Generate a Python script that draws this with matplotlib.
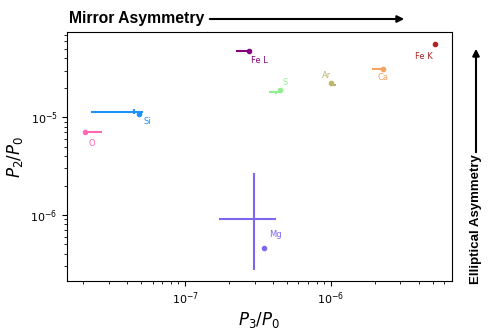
import matplotlib
matplotlib.use("Agg")
import matplotlib.pyplot as plt

# =========================
# Data
# =========================
elements = ["O", "Si", "S", "Ar", "Ca", "Fe L", "Fe K", "Mg"]
colors = ["hotpink", "dodgerblue", "lightgreen", "darkkhaki",
          "sandybrown", "purple", "firebrick", "mediumslateblue"]

# point estimates (dots)
p3_pt = [2.06e-8, 4.81e-8, 4.50e-7, 1.005e-6, 2.28e-6, 2.74e-7, 5.22e-6, 3.47e-7]
p2_pt = [7.12e-6, 1.09e-5, 1.89e-5, 2.22e-5, 3.14e-5, 4.81e-5, 5.62e-5, 4.56e-7]

# error bars: centre + lower/upper bounds
p3_c = [2.34e-8, 4.47e-8, 4.19e-7, 1.04e-6, 2.08e-6, 2.46e-7, 5.22e-6, 2.99e-7]
p3_lo = [2.06e-8, 2.26e-8, 3.77e-7, 9.89e-7, 1.91e-6, 2.23e-7, 5.22e-6, 1.72e-7]
p3_hi = [2.68e-8, 5.17e-8, 4.56e-7, 1.09e-6, 2.28e-6, 2.74e-7, 5.22e-6, 4.23e-7]
p2_c = [7.12e-6, 1.14e-5, 1.80e-5, 2.14e-5, 3.14e-5, 4.81e-5, 5.62e-5, 9.16e-7]
p2_lo = [7.12e-6, 1.07e-5, 1.74e-5, 2.10e-5, 3.14e-5, 4.81e-5, 5.62e-5, 2.74e-7]
p2_hi = [7.12e-6, 1.22e-5, 1.88e-5, 2.20e-5, 3.14e-5, 4.81e-5, 5.62e-5, 2.67e-6]

# label offsets in pixels relative to the dot
label_dx = [7, 9, 5, -5, 0, 11, -11, 12]
label_dy = [-12, -8, 8, 8, -9, -10, -12, 14]

fig = plt.figure(figsize=(4.91, 3.32), dpi=100)
ax = fig.add_axes([0.137, 0.1536, 0.783, 0.749])

for i, el in enumerate(elements):
    c = colors[i]
    xerr = [[p3_c[i] - p3_lo[i]], [p3_hi[i] - p3_c[i]]]
    yerr = [[p2_c[i] - p2_lo[i]], [p2_hi[i] - p2_c[i]]]
    ax.errorbar([p3_c[i]], [p2_c[i]], xerr=xerr, yerr=yerr, fmt="none",
                ecolor=c, elinewidth=1.5, capsize=0)
    ax.plot([p3_pt[i]], [p2_pt[i]], "o", color=c, ms=3)
    ax.annotate(el, (p3_pt[i], p2_pt[i]), xytext=(label_dx[i], label_dy[i]),
                textcoords="offset pixels", ha="center", va="center",
                color=c, fontsize=6)

ax.set_xscale("log")
ax.set_yscale("log")
ax.set_xlim(1.556e-8, 6.76e-6)
ax.set_ylim(2.11e-7, 7.41e-5)
ax.tick_params(labelsize=8)
ax.set_xlabel(r"$P_3/P_0$", fontsize=12, labelpad=2)
ax.set_ylabel(r"$P_2/P_0$", fontsize=12, labelpad=4)

# asymmetry annotations
fig.text(69 / 491, 1 - 18 / 332, "Mirror Asymmetry", ha="left", va="center",
         fontsize=11.3, fontweight="bold", family="Liberation Sans")
fig.add_artist(matplotlib.patches.FancyArrowPatch(
    (207 / 491, 1 - 19 / 332), (407 / 491, 1 - 19 / 332),
    transform=fig.transFigure, arrowstyle="-|>", mutation_scale=10,
    color="black", lw=1.5))

fig.text(476 / 491, 1 - 219 / 332, "Elliptical Asymmetry", ha="center", va="center",
         rotation=90, fontsize=9.5, fontweight="bold", family="Liberation Sans")
fig.add_artist(matplotlib.patches.FancyArrowPatch(
    (476 / 491, 1 - 155 / 332), (476 / 491, 1 - 46 / 332),
    transform=fig.transFigure, arrowstyle="-|>", mutation_scale=10,
    color="black", lw=1.5))

fig.savefig("out.png", dpi=100)
